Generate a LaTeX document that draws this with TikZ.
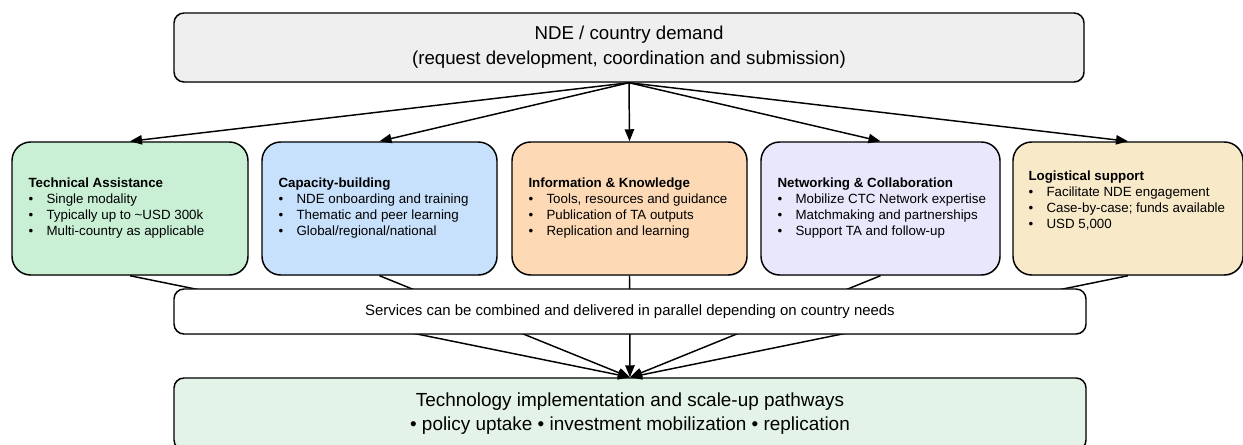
\documentclass[tikz,border=0pt]{standalone}
\usepackage{fontspec}
\setmainfont{Liberation Sans}
\usetikzlibrary{arrows.meta}
\usetikzlibrary{positioning}
\usetikzlibrary{shadows}

\definecolor{demandgray}{HTML}{EFEFEF}
\definecolor{tagreen}{HTML}{C9F0D5}
\definecolor{cbblue}{HTML}{C7E0FB}
\definecolor{ikpeach}{HTML}{FDDAB5}
\definecolor{nclilac}{HTML}{E9E7FC}
\definecolor{lscream}{HTML}{F8E9C9}
\definecolor{implgreen}{HTML}{E3F3E8}

\newcommand{\bul}[1]{\\\makebox[13.5pt][l]{\textbullet}#1}

\begin{document}
\begin{tikzpicture}[x=0.75pt,y=-0.75pt,
  box/.style={draw,line width=1.1pt,rounded corners=7.5pt,align=center,inner sep=0pt,drop shadow={shadow xshift=0.4pt,shadow yshift=-0.8pt,opacity=0.25}},
  card/.style={draw,line width=1.1pt,rounded corners=14pt,minimum height=99.75pt,inner sep=0pt,drop shadow={shadow xshift=0.4pt,shadow yshift=-0.8pt,opacity=0.25}},
  cardtext/.style={align=left,inner sep=0pt,font=\fontsize{10}{12}\selectfont},
  link/.style={line width=1.1pt,-{Triangle[length=9pt,width=7pt]}}]
\useasboundingbox (0,0) rectangle (1243,445);

\node[box,fill=demandgray,minimum width=682.5pt,minimum height=51.75pt,font=\fontsize{14}{18.75}\selectfont] (demand) at (629,47.5) {NDE / country demand\\(request development, coordination and submission)};

\node[card,fill=tagreen,minimum width=177pt] (ta) at (130,208.5) {};
\node[card,fill=cbblue,minimum width=176.25pt] (cb) at (379.5,208.5) {};
\node[card,fill=ikpeach,minimum width=176.25pt] (ik) at (629.5,208.5) {};
\node[card,fill=nclilac,minimum width=179.25pt] (nc) at (880.5,208.5) {};
\node[card,fill=lscream,minimum width=172.5pt] (ls) at (1128,208.5) {};

\node[cardtext,anchor=west] (ta text) at ([xshift=12.75pt]ta.west) {\textbf{Technical Assistance}\bul{Single modality}\bul{Typically up to \textasciitilde USD 300k}\bul{Multi-country as applicable}};
\node[cardtext,anchor=west] (cb text) at ([xshift=12.75pt]cb.west) {\textbf{Capacity-building}\bul{NDE onboarding and training}\bul{Thematic and peer learning}\bul{Global/regional/national}};
\node[cardtext,anchor=west] (ik text) at ([xshift=12.75pt]ik.west) {\textbf{Information \& Knowledge}\bul{Tools, resources and guidance}\bul{Publication of TA outputs}\bul{Replication and learning}};
\node[cardtext,anchor=west] (nc text) at ([xshift=12.75pt]nc.west) {\textbf{Networking \& Collaboration}\bul{Mobilize CTC Network expertise}\bul{Matchmaking and partnerships}\bul{Support TA and follow-up}};
\node[cardtext,anchor=west] (ls text) at ([xshift=12pt,yshift=6pt]ls.west) {\textbf{Logistical support}\bul{Facilitate NDE engagement}\bul{Case-by-case; funds available}\bul{USD 5,000}};

\node[box,fill=implgreen,minimum width=684pt,minimum height=54pt,font=\fontsize{14.2}{18}\selectfont] (impl) at (630,414) {Technology implementation and scale-up pathways\\\textbullet{} policy uptake \textbullet{} investment mobilization \textbullet{} replication};

\foreach \s in {ta,cb,ik,nc,ls} {
  \draw[link] (demand.south) -- (\s.north);
  \draw[link] (\s.south) -- (impl.north);
}

\node[box,fill=white,minimum width=684pt,minimum height=33.75pt,font=\fontsize{11.2}{13}\selectfont] (combine) at (630,311.5) {Services can be combined and delivered in parallel depending on country needs};
\end{tikzpicture}
\end{document}
